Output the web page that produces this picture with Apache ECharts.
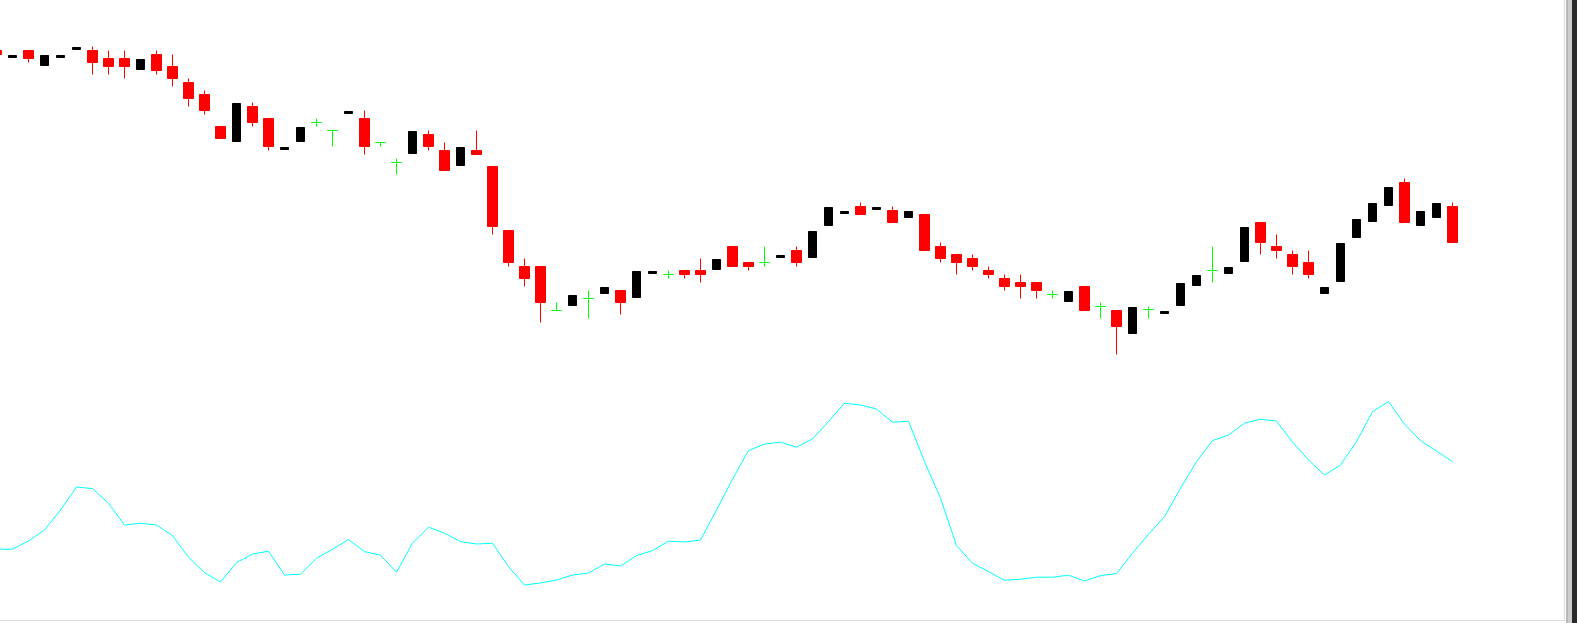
<!DOCTYPE html>
<html><head><meta charset="utf-8">
<script src="https://cdn.jsdelivr.net/npm/echarts@6/dist/echarts.min.js"></script>
<style>html,body{margin:0;padding:0;background:#fff;overflow:hidden}#c{width:1577px;height:623px}</style>
</head><body><div id="c"></div>
<script>
// 98 bar slots (92 drawn bars + empty chart shift on the right)
const categories = Array.from({length: 98}, (_, i) => 'Bar ' + (i + 1));

const opens = [550,543,550,535,543,551,550,542,542,531,
  546,534,518,506,474,459,494,482,451,459,
  478,470,487,482,458,438,447,466,450,435,
  450,434,370,334,334,290,295,302,307,310,
  303,327,326,330,330,331,354,338,338,343,
  350,343,375,387,394,391,390,383,386,354,
  346,342,330,322,318,318,306,299,314,294,
  290,267,291,287,295,315,330,327,339,378,
  354,346,338,307,319,363,379,395,418,375,
  383,394];
const closes = [546,545,542,545,545,553,538,534,534,541,
  530,522,502,490,462,497,478,454,453,473,
  478,470,489,454,458,438,469,454,430,453,
  446,374,338,322,298,290,305,302,313,298,
  329,329,326,326,326,341,334,334,338,345,
  338,369,393,389,386,393,378,389,350,342,
  338,334,326,314,314,310,306,309,290,294,
  274,293,291,289,317,325,330,333,373,358,
  350,334,326,313,357,381,397,413,378,389,
  397,358];
const highs = [550,545,550,545,545,553,554,550,550,541,
  550,546,522,510,474,497,498,482,453,473,
  482,470,489,490,458,442,469,470,458,453,
  470,434,370,342,334,298,305,310,313,310,
  329,329,330,330,342,341,354,338,354,345,
  354,369,393,389,398,393,394,389,386,358,
  346,346,334,326,326,318,310,309,314,298,
  290,293,294,289,317,325,354,333,373,378,
  366,350,350,313,357,381,397,413,422,389,
  397,398];
const lows = [546,543,538,535,543,551,526,526,522,531,
  526,514,494,486,462,459,474,450,451,459,
  474,454,487,446,454,426,447,450,430,435,
  446,366,334,314,278,290,295,282,307,286,
  303,327,322,322,318,331,334,330,334,343,
  334,343,375,387,386,391,378,383,350,338,
  326,330,322,310,302,302,302,299,290,282,
  246,267,282,287,295,315,318,327,339,346,
  342,326,322,307,319,363,379,395,378,375,
  383,358];
const oscillator = [20.4,20.4,24.5,30,40,51.5,50.7,43.4,32.5,33.4,
  32.5,27.2,16.4,8.7,4,13.7,18,19.4,7.5,7.9,
  15.9,20.4,25.2,19.2,17.4,8.9,23.4,31.4,28.4,24.2,
  23,23.4,11.7,2.5,3.5,5,7.5,8.5,13,12,
  17.2,19.7,24.4,24,25,40,55.4,69.7,73,73.9,
  71.4,75.5,84.2,93.4,92.5,90.5,83.9,84.4,64.2,45.9,
  22.2,13.4,9.2,4.9,5.4,6.4,6.4,7.4,4.5,7.2,
  8.2,18.4,27.9,36.7,50.9,64.2,74.7,77.5,83.4,85.4,
  84.5,73.9,65,57.5,62.5,74.2,89.2,94.2,82.9,74.7,
  69.5,64.2];

const upData = [], downData = [];
for (let i = 0; i < opens.length; i++) {
  const item = [opens[i], closes[i], lows[i], highs[i]];
  if (closes[i] > opens[i]) { upData.push(item); downData.push('-'); }
  else { downData.push(item); upData.push('-'); }
}

const chart = echarts.init(document.getElementById('c'), null, {renderer: 'canvas'});
chart.setOption({
  animation: false,
  backgroundColor: '#ffffff',
  grid: [
    {left: -11.5, top: 0.5, width: 1568, height: 623, outerBoundsMode: 'none', containLabel: false},
    {left: -11.5, top: 390, width: 1568, height: 200, outerBoundsMode: 'none', containLabel: false}
  ],
  xAxis: [
    {type: 'category', data: categories, gridIndex: 0, show: false, boundaryGap: true},
    {type: 'category', data: categories, gridIndex: 1, show: false, boundaryGap: true}
  ],
  yAxis: [
    {type: 'value', gridIndex: 0, min: -23, max: 600, show: false, splitLine: {show: false}},
    {type: 'value', gridIndex: 1, min: 0, max: 100, show: false, splitLine: {show: false}}
  ],
  series: [
    {
      name: 'Down', type: 'candlestick', xAxisIndex: 0, yAxisIndex: 0,
      data: downData, barWidth: 10,
      itemStyle: {color: '#ff0000', color0: '#ff0000', borderColor: '#ff0000', borderColor0: '#ff0000',
        borderColorDoji: '#00ff00', borderWidth: 1}
    },
    {
      name: 'Up', type: 'candlestick', xAxisIndex: 0, yAxisIndex: 0,
      data: upData, barWidth: 8,
      itemStyle: {color: '#000000', color0: '#000000', borderColor: '#000000', borderColor0: '#000000',
        borderColorDoji: '#000000', borderWidth: 1}
    },
    {
      name: 'Oscillator', type: 'line', xAxisIndex: 1, yAxisIndex: 1,
      data: oscillator, showSymbol: false, symbol: 'none', smooth: false,
      lineStyle: {color: '#00ffff', width: 1}
    }
  ],
  graphic: [
    {type: 'rect', shape: {x: 0, y: 620, width: 1564, height: 1}, style: {fill: '#dcdcdc'}, silent: true},
    {type: 'rect', shape: {x: 1564, y: 0, width: 1, height: 621}, style: {fill: '#dcdcdc'}, silent: true},
    {type: 'rect', shape: {x: 1566, y: 0, width: 2, height: 623}, style: {fill: '#b9b9b9'}, silent: true},
    {type: 'rect', shape: {x: 1568, y: 0, width: 4, height: 623}, style: {fill: '#cfcfcf'}, silent: true},
    {type: 'rect', shape: {x: 1572, y: 0, width: 5, height: 623}, style: {fill: '#2b2b2b'}, silent: true}
  ]
});
</script>
</body></html>
